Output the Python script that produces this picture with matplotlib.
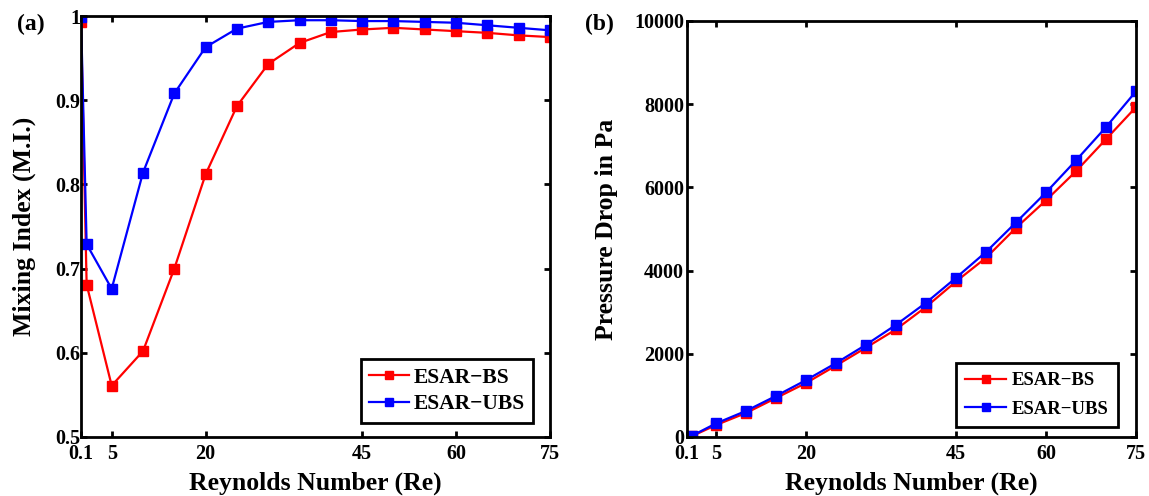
import numpy as np
import matplotlib.pyplot as plt

# ---------------------------------------------------------
# === Data ===
# ---------------------------------------------------------
re_values = [0.1, 1, 5, 10, 15, 20, 25, 30, 35, 40, 45, 50, 55, 60, 65, 70, 75]

# (a) Mixing index
mi_bs = [0.993, 0.681, 0.561, 0.602, 0.700, 0.812, 0.893, 0.943, 0.968,
         0.981, 0.984, 0.986, 0.984, 0.982, 0.980, 0.977, 0.975]
mi_ubs = [0.999, 0.729, 0.676, 0.814, 0.908, 0.963, 0.985, 0.993, 0.995,
          0.995, 0.994, 0.994, 0.993, 0.992, 0.989, 0.986, 0.983]

# (b) Pressure drop in Pa
dp_bs = [2, 25, 290, 580, 940, 1300, 1720, 2150, 2590, 3130, 3740,
         4310, 5030, 5690, 6390, 7160, 7930]
dp_ubs = [3, 35, 330, 630, 990, 1370, 1780, 2220, 2700, 3230, 3830,
          4450, 5160, 5880, 6650, 7450, 8310]

x_ticks = [0.1, 5, 20, 45, 60, 75]
x_ticklabels = ['0.1', '5', '20', '45', '60', '75']
mi_ticks = [0.5, 0.6, 0.7, 0.8, 0.9, 1.0]
mi_ticklabels = ['0.5', '0.6', '0.7', '0.8', '0.9', '1']
dp_ticks = [0, 2000, 4000, 6000, 8000, 10000]

# ---------------------------------------------------------
# === Style ===
# ---------------------------------------------------------
plt.rcParams['font.family'] = ['Liberation Serif', 'DejaVu Serif']
plt.rcParams['font.weight'] = 'bold'

fig = plt.figure(figsize=(11.49, 4.96), dpi=100)
ax1 = fig.add_axes([0.0705, 0.119, 0.4082, 0.8487])
ax2 = fig.add_axes([0.5979, 0.119, 0.3908, 0.8387])


def style_axis(ax, ypad):
    for sp in ax.spines.values():
        sp.set_linewidth(2.0)
    ax.tick_params(direction='in', length=4, width=2, top=True, right=True,
                   labelsize=14.5)
    ax.tick_params(axis='x', pad=5)
    ax.tick_params(axis='y', pad=ypad)
    for lbl in ax.get_xticklabels() + ax.get_yticklabels():
        lbl.set_fontweight('bold')
    ax.set_xlabel('Reynolds Number (Re)', fontsize=18.5, fontweight='bold')
    ax.xaxis.set_label_coords(0.5, -0.083)


line_kw = dict(marker='s', markersize=7, linewidth=1.6)

# --- (a) Mixing index ---
ax1.plot(re_values, mi_bs, color='#ff0000', label='ESAR\u2212BS', **line_kw)
ax1.plot(re_values, mi_ubs, color='#0000ff', label='ESAR\u2212UBS', **line_kw)
ax1.set_xlim(0.1, 75)
ax1.set_ylim(0.5, 1.0)
ax1.set_xticks(x_ticks)
ax1.set_xticklabels(x_ticklabels)
ax1.set_yticks(mi_ticks)
ax1.set_yticklabels(mi_ticklabels)
style_axis(ax1, 0.5)
ax1.set_ylabel('Mixing Index (M.I.)', fontsize=18.5, fontweight='bold')
ax1.yaxis.set_label_coords(-0.096, 0.5)
leg1 = ax1.legend(loc='lower right', bbox_to_anchor=(0.964, 0.033),
                  borderaxespad=0, frameon=True, fancybox=False,
                  edgecolor='black', framealpha=1, handlelength=1.85,
                  handletextpad=0.2, borderpad=0.4, labelspacing=0.3,
                  markerscale=0.75, prop=dict(weight='bold', size=15.5))
leg1.get_frame().set_linewidth(2)
fig.text(0.015, 0.95, '(a)', fontsize=17, fontweight='bold', va='center')

# --- (b) Pressure drop ---
ax2.plot(re_values, dp_bs, color='#ff0000', label='ESAR\u2212BS', **line_kw)
ax2.plot(re_values, dp_ubs, color='#0000ff', label='ESAR\u2212UBS', **line_kw)
ax2.set_xlim(0.1, 75)
ax2.set_ylim(0, 10000)
ax2.set_xticks(x_ticks)
ax2.set_xticklabels(x_ticklabels)
ax2.set_yticks(dp_ticks)
style_axis(ax2, 2)
ax2.set_ylabel('Pressure Drop in Pa', fontsize=18.5, fontweight='bold')
ax2.yaxis.set_label_coords(-0.154, 0.5)
leg2 = ax2.legend(loc='lower right', bbox_to_anchor=(0.960, 0.024),
                  borderaxespad=0, frameon=True, fancybox=False,
                  edgecolor='black', framealpha=1, handlelength=2.2,
                  handletextpad=0.3, borderpad=0.5, labelspacing=0.6,
                  markerscale=0.75, prop=dict(weight='bold', size=13.5))
leg2.get_frame().set_linewidth(2)
fig.text(0.509, 0.95, '(b)', fontsize=17, fontweight='bold', va='center')

fig.savefig('out.png', dpi=100)
